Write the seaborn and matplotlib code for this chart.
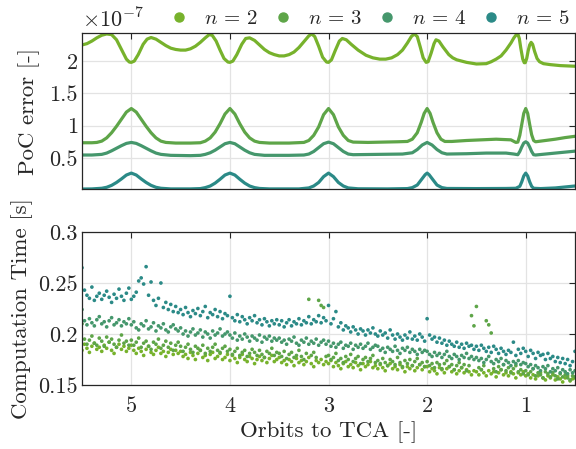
import numpy as np
import pandas as pd
import seaborn as sns
import matplotlib.pyplot as plt
from matplotlib.lines import Line2D
from matplotlib.ticker import FuncFormatter

# series labels and colours
labels = [r"$n\,=\,2$", r"$n\,=\,3$", r"$n\,=\,4$", r"$n\,=\,5$"]
colors = ["#77b22c", "#5ea548", "#45976c", "#2b8a87"]

# ---- PoC error (units of 1e-7) ----
x_n2 = [5.50, 5.45, 5.40, 5.35, 5.30, 5.25, 5.20, 5.15, 5.10, 5.05, 5.02, 5.00, 4.97, 4.93, 4.88,
        4.84, 4.80, 4.75, 4.70, 4.65, 4.60, 4.55, 4.50, 4.45, 4.40, 4.35, 4.30, 4.25, 4.21, 4.18,
        4.14, 4.10, 4.06, 4.02, 4.00, 3.97, 3.93, 3.88, 3.84, 3.80, 3.75, 3.70, 3.65, 3.60, 3.55,
        3.50, 3.45, 3.40, 3.35, 3.30, 3.25, 3.20, 3.17, 3.14, 3.10, 3.06, 3.02, 3.00, 2.97, 2.93,
        2.89, 2.86, 2.82, 2.77, 2.70, 2.62, 2.55, 2.48, 2.42, 2.36, 2.30, 2.25, 2.20, 2.16, 2.13,
        2.10, 2.07, 2.04, 2.01, 1.99, 1.96, 1.93, 1.91, 1.88, 1.84, 1.78, 1.74, 1.70, 1.60, 1.50,
        1.40, 1.35, 1.30, 1.25, 1.20, 1.15, 1.12, 1.10, 1.08, 1.065, 1.05, 1.03, 1.015, 1.005, 0.99,
        0.975, 0.96, 0.945, 0.93, 0.91, 0.885, 0.86, 0.82, 0.75, 0.65, 0.50]
y_n2 = [2.25, 2.27, 2.31, 2.36, 2.40, 2.42, 2.41, 2.33, 2.18, 2.03, 1.985, 1.98, 2.00, 2.10, 2.26,
        2.34, 2.365, 2.34, 2.29, 2.24, 2.20, 2.18, 2.17, 2.17, 2.19, 2.23, 2.29, 2.36, 2.41, 2.40,
        2.31, 2.17, 2.04, 1.985, 1.98, 2.00, 2.10, 2.26, 2.35, 2.36, 2.32, 2.25, 2.18, 2.13, 2.10,
        2.08, 2.08, 2.10, 2.14, 2.21, 2.30, 2.39, 2.42, 2.38, 2.23, 2.06, 1.985, 1.98, 2.02, 2.17,
        2.31, 2.35, 2.33, 2.26, 2.17, 2.09, 2.05, 2.03, 2.03, 2.05, 2.10, 2.17, 2.28, 2.38, 2.42,
        2.38, 2.22, 2.05, 1.98, 1.99, 2.12, 2.27, 2.33, 2.31, 2.22, 2.10, 2.05, 2.02, 1.98, 1.955,
        1.96, 1.99, 2.03, 2.08, 2.17, 2.28, 2.36, 2.40, 2.42, 2.35, 2.20, 2.03, 1.975, 1.975, 2.04,
        2.16, 2.25, 2.29, 2.26, 2.15, 2.04, 1.99, 1.96, 1.945, 1.93, 1.92]

x_n3 = [5.50, 5.40, 5.35, 5.30, 5.25, 5.20, 5.15, 5.10, 5.05, 5.00, 4.95, 4.90, 4.85, 4.80, 4.75,
        4.70, 4.65, 4.55, 4.40, 4.30, 4.25, 4.20, 4.15, 4.10, 4.05, 4.00, 3.95, 3.90, 3.85, 3.80,
        3.75, 3.70, 3.60, 3.40, 3.25, 3.20, 3.15, 3.10, 3.05, 3.00, 2.95, 2.90, 2.85, 2.80, 2.75,
        2.60, 2.45, 2.30, 2.20, 2.15, 2.10, 2.06, 2.03, 2.00, 1.97, 1.94, 1.90, 1.86, 1.82, 1.75,
        1.60, 1.45, 1.30, 1.15, 1.10, 1.08, 1.06, 1.04, 1.02, 1.00, 0.98, 0.96, 0.94, 0.92, 0.90,
        0.80, 0.70, 0.60, 0.50]
y_n3 = [0.735, 0.735, 0.74, 0.76, 0.81, 0.89, 0.99, 1.10, 1.21, 1.265, 1.21, 1.10, 0.99, 0.89, 0.81,
        0.76, 0.74, 0.73, 0.73, 0.735, 0.76, 0.81, 0.90, 1.03, 1.18, 1.265, 1.18, 1.03, 0.90, 0.81,
        0.76, 0.74, 0.73, 0.73, 0.74, 0.77, 0.85, 0.98, 1.17, 1.265, 1.17, 0.98, 0.85, 0.77, 0.745,
        0.74, 0.745, 0.75, 0.755, 0.79, 0.89, 1.05, 1.19, 1.265, 1.19, 1.05, 0.89, 0.79, 0.755, 0.755,
        0.77, 0.78, 0.79, 0.78, 0.74, 0.745, 0.85, 1.02, 1.19, 1.265, 1.19, 1.02, 0.86, 0.77, 0.75,
        0.77, 0.79, 0.815, 0.835]

x_n4 = [5.50, 5.40, 5.30, 5.25, 5.20, 5.15, 5.10, 5.05, 5.00, 4.95, 4.90, 4.85, 4.80, 4.75, 4.70,
        4.60, 4.40, 4.30, 4.25, 4.20, 4.15, 4.10, 4.05, 4.00, 3.95, 3.90, 3.85, 3.80, 3.75, 3.65,
        3.40, 3.25, 3.20, 3.15, 3.10, 3.05, 3.00, 2.95, 2.90, 2.85, 2.80, 2.75, 2.50, 2.25, 2.15,
        2.10, 2.05, 2.00, 1.95, 1.90, 1.85, 1.80, 1.60, 1.40, 1.20, 1.12, 1.08, 1.06, 1.04, 1.02,
        1.00, 0.98, 0.96, 0.94, 0.92, 0.90, 0.80, 0.70, 0.60, 0.50]
y_n4 = [0.545, 0.545, 0.555, 0.575, 0.61, 0.65, 0.69, 0.725, 0.74, 0.725, 0.69, 0.65, 0.61, 0.575, 0.555,
        0.54, 0.535, 0.54, 0.555, 0.58, 0.62, 0.67, 0.72, 0.74, 0.72, 0.67, 0.62, 0.58, 0.555, 0.54,
        0.54, 0.545, 0.56, 0.60, 0.66, 0.72, 0.745, 0.72, 0.66, 0.60, 0.56, 0.55, 0.555, 0.56, 0.58,
        0.63, 0.70, 0.74, 0.70, 0.63, 0.58, 0.56, 0.565, 0.575, 0.575, 0.56, 0.55, 0.60, 0.67, 0.73,
        0.75, 0.73, 0.67, 0.60, 0.55, 0.545, 0.56, 0.575, 0.59, 0.605]

x_n5 = [5.50, 5.40, 5.30, 5.25, 5.20, 5.15, 5.10, 5.05, 5.00, 4.95, 4.90, 4.85, 4.80, 4.75, 4.70,
        4.60, 4.40, 4.30, 4.25, 4.20, 4.15, 4.10, 4.05, 4.00, 3.95, 3.90, 3.85, 3.80, 3.75, 3.70,
        3.60, 3.30, 3.20, 3.15, 3.10, 3.05, 3.00, 2.95, 2.90, 2.85, 2.80, 2.70, 2.40, 2.20, 2.15,
        2.10, 2.05, 2.02, 2.00, 1.98, 1.95, 1.90, 1.85, 1.80, 1.50, 1.20, 1.10, 1.06, 1.04, 1.02,
        1.00, 0.98, 0.96, 0.94, 0.92, 0.85, 0.70, 0.60, 0.50]
y_n5 = [0.018, 0.02, 0.03, 0.045, 0.075, 0.12, 0.175, 0.235, 0.265, 0.235, 0.175, 0.12, 0.075, 0.045, 0.03,
        0.02, 0.02, 0.025, 0.04, 0.065, 0.11, 0.17, 0.235, 0.265, 0.235, 0.17, 0.11, 0.065, 0.04, 0.027,
        0.02, 0.02, 0.035, 0.065, 0.12, 0.21, 0.265, 0.21, 0.12, 0.065, 0.035, 0.022, 0.02, 0.025, 0.04,
        0.08, 0.18, 0.24, 0.265, 0.24, 0.18, 0.08, 0.04, 0.027, 0.025, 0.027, 0.03, 0.06, 0.13, 0.22,
        0.265, 0.22, 0.13, 0.06, 0.03, 0.025, 0.035, 0.05, 0.065]

# ---- computation time [s], sampled every 0.025 orbits from 5.5 down to 0.5 ----
orbits = np.round(np.linspace(5.5, 0.5, 201), 3)
t_n2 = [0.184, 0.190, 0.186, 0.182, 0.188, 0.191, 0.185, 0.187, 0.183, 0.189, 0.186, 0.192, 0.184, 0.181, 0.187, 0.190, 0.185, 0.188, 0.183, 0.186,
        0.189, 0.184, 0.181, 0.186, 0.183, 0.179, 0.185, 0.188, 0.182, 0.180, 0.184, 0.187, 0.181, 0.183, 0.178, 0.182, 0.185, 0.180, 0.184, 0.181,
        0.183, 0.178, 0.180, 0.176, 0.182, 0.179, 0.175, 0.181, 0.184, 0.177, 0.179, 0.174, 0.180, 0.182, 0.176, 0.178, 0.181, 0.175, 0.177, 0.180,
        0.174, 0.179, 0.176, 0.172, 0.177, 0.180, 0.175, 0.173, 0.178, 0.176, 0.171, 0.175, 0.178, 0.174, 0.177, 0.172, 0.176, 0.179, 0.173, 0.175,
        0.177, 0.172, 0.174, 0.170, 0.175, 0.173, 0.169, 0.176, 0.172, 0.174, 0.170, 0.173, 0.177, 0.171, 0.168, 0.174, 0.172, 0.175, 0.170, 0.173,
        0.171, 0.174, 0.168, 0.172, 0.169, 0.166, 0.171, 0.173, 0.168, 0.170, 0.167, 0.172, 0.169, 0.165, 0.171, 0.168, 0.170, 0.173, 0.167, 0.169,
        0.166, 0.170, 0.167, 0.164, 0.169, 0.171, 0.166, 0.168, 0.165, 0.170, 0.167, 0.163, 0.168, 0.166, 0.169, 0.164, 0.167, 0.170, 0.165, 0.168,
        0.168, 0.163, 0.166, 0.164, 0.161, 0.167, 0.165, 0.162, 0.166, 0.168, 0.163, 0.165, 0.161, 0.164, 0.167, 0.162, 0.165, 0.163, 0.160, 0.164,
        0.163, 0.160, 0.165, 0.162, 0.159, 0.164, 0.161, 0.163, 0.158, 0.162, 0.165, 0.160, 0.162, 0.159, 0.163, 0.161, 0.157, 0.162, 0.160, 0.163,
        0.159, 0.161, 0.157, 0.160, 0.156, 0.159, 0.162, 0.157, 0.155, 0.159, 0.157, 0.160, 0.155, 0.158, 0.156, 0.153, 0.157, 0.159, 0.154, 0.156,
        0.157]
t_n3 = [0.210, 0.195, 0.190, 0.194, 0.198, 0.191, 0.189, 0.196, 0.193, 0.188, 0.197, 0.192, 0.195, 0.190, 0.187, 0.194, 0.199, 0.191, 0.193, 0.189,
        0.194, 0.189, 0.192, 0.196, 0.187, 0.191, 0.193, 0.188, 0.185, 0.192, 0.190, 0.195, 0.186, 0.189, 0.193, 0.187, 0.191, 0.184, 0.189, 0.192,
        0.188, 0.183, 0.187, 0.190, 0.185, 0.182, 0.188, 0.186, 0.184, 0.189, 0.181, 0.186, 0.183, 0.187, 0.190, 0.184, 0.182, 0.186, 0.188, 0.183,
        0.185, 0.180, 0.183, 0.186, 0.179, 0.182, 0.184, 0.178, 0.181, 0.185, 0.182, 0.179, 0.184, 0.180, 0.177, 0.183, 0.181, 0.186, 0.179, 0.182,
        0.181, 0.178, 0.183, 0.176, 0.180, 0.182, 0.177, 0.179, 0.184, 0.178, 0.175, 0.181, 0.234, 0.179, 0.182, 0.177, 0.233, 0.228, 0.226, 0.178,
        0.179, 0.175, 0.177, 0.181, 0.174, 0.176, 0.172, 0.178, 0.175, 0.180, 0.173, 0.176, 0.178, 0.171, 0.175, 0.177, 0.173, 0.176, 0.179, 0.172,
        0.174, 0.171, 0.176, 0.172, 0.169, 0.175, 0.173, 0.170, 0.177, 0.172, 0.168, 0.174, 0.171, 0.175, 0.169, 0.173, 0.176, 0.170, 0.172, 0.168,
        0.173, 0.169, 0.171, 0.167, 0.172, 0.170, 0.166, 0.171, 0.174, 0.168, 0.170, 0.165, 0.169, 0.172, 0.167, 0.170, 0.164, 0.169, 0.218, 0.208,
        0.227, 0.167, 0.165, 0.169, 0.213, 0.209, 0.201, 0.166, 0.163, 0.168, 0.165, 0.170, 0.164, 0.167, 0.162, 0.166, 0.169, 0.163, 0.165, 0.161,
        0.164, 0.160, 0.163, 0.166, 0.159, 0.162, 0.160, 0.157, 0.163, 0.161, 0.158, 0.162, 0.159, 0.156, 0.161, 0.158, 0.160, 0.157, 0.155, 0.159,
        0.158]
t_n4 = [0.224, 0.213, 0.209, 0.215, 0.211, 0.208, 0.214, 0.217, 0.210, 0.212, 0.207, 0.213, 0.216, 0.209, 0.211, 0.214, 0.208, 0.212, 0.210, 0.215,
        0.209, 0.212, 0.206, 0.204, 0.210, 0.208, 0.213, 0.205, 0.207, 0.211, 0.203, 0.208, 0.206, 0.210, 0.204, 0.202, 0.207, 0.209, 0.205, 0.203,
        0.206, 0.200, 0.203, 0.198, 0.202, 0.205, 0.199, 0.201, 0.204, 0.197, 0.202, 0.200, 0.196, 0.203, 0.199, 0.201, 0.205, 0.198, 0.200, 0.202,
        0.199, 0.196, 0.201, 0.194, 0.198, 0.195, 0.200, 0.197, 0.193, 0.198, 0.196, 0.194, 0.199, 0.192, 0.197, 0.195, 0.198, 0.193, 0.196, 0.194,
        0.196, 0.192, 0.194, 0.190, 0.195, 0.193, 0.197, 0.191, 0.189, 0.194, 0.192, 0.196, 0.190, 0.193, 0.191, 0.195, 0.189, 0.192, 0.194, 0.190,
        0.193, 0.188, 0.191, 0.187, 0.190, 0.192, 0.186, 0.189, 0.188, 0.191, 0.185, 0.189, 0.187, 0.190, 0.186, 0.188, 0.191, 0.185, 0.187, 0.189,
        0.188, 0.184, 0.186, 0.182, 0.187, 0.185, 0.183, 0.188, 0.184, 0.181, 0.186, 0.184, 0.187, 0.182, 0.185, 0.183, 0.180, 0.185, 0.182, 0.184,
        0.183, 0.180, 0.178, 0.182, 0.179, 0.181, 0.177, 0.180, 0.183, 0.178, 0.176, 0.180, 0.178, 0.175, 0.179, 0.177, 0.181, 0.176, 0.178, 0.175,
        0.177, 0.174, 0.176, 0.172, 0.175, 0.178, 0.173, 0.171, 0.175, 0.173, 0.176, 0.170, 0.174, 0.172, 0.169, 0.173, 0.171, 0.174, 0.170, 0.172,
        0.171, 0.168, 0.170, 0.166, 0.169, 0.167, 0.164, 0.168, 0.166, 0.169, 0.163, 0.166, 0.164, 0.167, 0.162, 0.165, 0.163, 0.161, 0.165, 0.162,
        0.164]
t_n5 = [0.265, 0.243, 0.238, 0.235, 0.246, 0.233, 0.237, 0.240, 0.234, 0.238, 0.242, 0.236, 0.231, 0.239, 0.235, 0.244, 0.237, 0.233, 0.240, 0.245,
        0.234, 0.237, 0.241, 0.252, 0.255, 0.249, 0.266, 0.238, 0.251, 0.233, 0.228, 0.235, 0.250, 0.226, 0.231, 0.224, 0.229, 0.222, 0.227, 0.221,
        0.224, 0.219, 0.226, 0.221, 0.217, 0.223, 0.220, 0.225, 0.218, 0.222, 0.227, 0.216, 0.221, 0.219, 0.224, 0.217, 0.222, 0.215, 0.220, 0.218,
        0.237, 0.216, 0.213, 0.219, 0.212, 0.217, 0.214, 0.210, 0.216, 0.213, 0.218, 0.211, 0.214, 0.209, 0.215, 0.212, 0.208, 0.213, 0.210, 0.214,
        0.209, 0.213, 0.207, 0.211, 0.214, 0.208, 0.212, 0.210, 0.215, 0.209, 0.213, 0.211, 0.217, 0.210, 0.214, 0.212, 0.218, 0.211, 0.216, 0.213,
        0.228, 0.210, 0.215, 0.222, 0.207, 0.211, 0.204, 0.208, 0.206, 0.202, 0.207, 0.204, 0.200, 0.205, 0.203, 0.199, 0.204, 0.201, 0.206, 0.200,
        0.198, 0.203, 0.199, 0.201, 0.196, 0.204, 0.199, 0.195, 0.200, 0.197, 0.194, 0.199, 0.196, 0.202, 0.195, 0.198, 0.194, 0.200, 0.197, 0.193,
        0.215, 0.199, 0.195, 0.197, 0.192, 0.196, 0.191, 0.194, 0.189, 0.193, 0.190, 0.188, 0.192, 0.187, 0.190, 0.186, 0.191, 0.188, 0.189, 0.185,
        0.188, 0.184, 0.189, 0.186, 0.183, 0.187, 0.182, 0.188, 0.185, 0.181, 0.186, 0.183, 0.180, 0.184, 0.182, 0.192, 0.179, 0.185, 0.181, 0.186,
        0.183, 0.178, 0.184, 0.181, 0.176, 0.182, 0.179, 0.180, 0.175, 0.181, 0.176, 0.178, 0.173, 0.177, 0.172, 0.176, 0.171, 0.175, 0.169, 0.173,
        0.183]

# long tables for seaborn
poc = pd.concat([
    pd.DataFrame({"orbits": x, "err": y, "n": lab})
    for x, y, lab in zip([x_n2, x_n3, x_n4, x_n5], [y_n2, y_n3, y_n4, y_n5], labels)
])
timing = pd.concat([
    pd.DataFrame({"orbits": orbits, "time": t, "n": lab})
    for t, lab in zip([t_n2, t_n3, t_n4, t_n5], labels)
])

sns.set_theme(style="white")
plt.rcParams["font.family"] = "serif"
plt.rcParams["font.serif"] = ["cmr10"]
plt.rcParams["mathtext.fontset"] = "cm"
plt.rcParams["axes.unicode_minus"] = False
plt.rcParams["font.size"] = 16

fig = plt.figure(figsize=(5.76, 4.49), dpi=100)
ax1 = fig.add_axes([0.1424, 0.5784, 0.8559, 0.3474])
ax2 = fig.add_axes([0.1424, 0.1425, 0.8559, 0.3408])

palette = dict(zip(labels, colors))
sns.lineplot(data=poc, x="orbits", y="err", hue="n", palette=palette, estimator=None,
             sort=False, linewidth=2.3, legend=False, ax=ax1)
sns.scatterplot(data=timing, x="orbits", y="time", hue="n", palette=palette,
                s=7, linewidth=0, legend=False, ax=ax2)

for ax in (ax1, ax2):
    ax.set_xlim(5.5, 0.5)
    ax.set_xticks([5, 4, 3, 2, 1])
    ax.grid(True, color="#e3e3e3", linewidth=0.9)
    ax.set_axisbelow(True)
    ax.tick_params(direction="in", length=4, width=0.8, top=True, right=True,
                   labelsize=16, pad=3, colors="#262626")
    ax.tick_params(axis="x", pad=8)
    for sp in ax.spines.values():
        sp.set_color("#262626")
        sp.set_linewidth(0.9)

ax1.set_ylim(0.014, 2.43)
ax1.set_yticks([0.5, 1, 1.5, 2])
ax1.yaxis.set_major_formatter(FuncFormatter(lambda v, p: f"{v:g}"))
ax1.tick_params(labelbottom=False)
ax1.set_xlabel("")
ax1.set_ylabel("PoC error [-]", fontsize=16.5)
ax1.yaxis.set_label_coords(-0.085, 0.5)
ax1.text(0.0, 1.01, r"$\times 10^{\mathrm{-7}}$", transform=ax1.transAxes,
         ha="left", va="bottom", fontsize=16)

ax2.set_ylim(0.15, 0.3)
ax2.set_yticks([0.15, 0.2, 0.25, 0.3])
ax2.yaxis.set_major_formatter(FuncFormatter(lambda v, p: f"{v:g}"))
ax2.set_xlabel("Orbits to TCA [-]", fontsize=16.5, labelpad=4)
ax2.set_ylabel("Computation Time [s]", fontsize=16.5)
ax2.yaxis.set_label_coords(-0.10, 0.5)

# legend spread across the strip above the top panel
handles = [Line2D([], [], marker="o", linestyle="none", markersize=6.5,
                  markerfacecolor=c, markeredgecolor=c) for c in colors]
fig.legend(handles, labels, loc="lower left", bbox_to_anchor=(0.297, 0.938, 0.692, 0.06),
           mode="expand", ncol=4, frameon=False, fontsize=15, handlelength=0.8,
           handletextpad=0.8, borderaxespad=0, borderpad=0)

fig.savefig("out.png", dpi=100)
